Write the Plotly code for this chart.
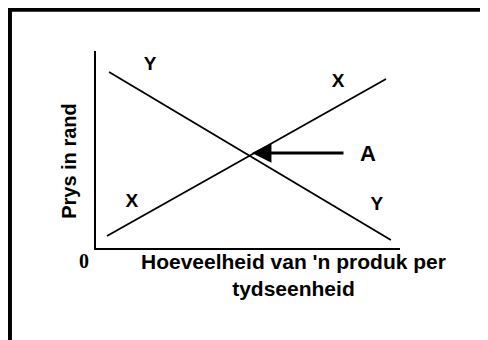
import plotly.graph_objects as go

# Vraag en aanbod skets (waardes op 'n 0-10 skaal afgelees)
supply_q = [0.36, 9.54]
supply_p = [0.61, 8.58]
demand_q = [0.43, 9.70]
demand_p = [8.93, 0.41]

label_text = ["Y", "X", "X", "Y"]
label_q = [1.78, 7.96, 1.18, 9.24]
label_p = [9.29, 8.43, 2.34, 2.18]

# punt A (ewewig) en stert van die pyl
point_a = [5.13, 4.82]
arrow_tail = [8.19, 4.82]

FONT = "Arial, Liberation Sans, sans-serif"

fig = go.Figure()
fig.add_trace(go.Scatter(x=supply_q, y=supply_p, mode="lines",
                         line=dict(color="black", width=1.8), hoverinfo="skip"))
fig.add_trace(go.Scatter(x=demand_q, y=demand_p, mode="lines",
                         line=dict(color="black", width=1.8), hoverinfo="skip"))
fig.add_trace(go.Scatter(x=label_q, y=label_p, mode="text", text=label_text,
                         textfont=dict(family=FONT, size=19, color="black", weight="bold"),
                         hoverinfo="skip"))

# pyl na punt A
fig.add_annotation(x=point_a[0], y=point_a[1], ax=arrow_tail[0], ay=arrow_tail[1],
                   xref="x", yref="y", axref="x", ayref="y", text="",
                   showarrow=True, arrowhead=2, arrowsize=1.3, arrowwidth=3,
                   arrowcolor="black", standoff=0)
fig.add_annotation(x=arrow_tail[0], y=arrow_tail[1], xref="x", yref="y",
                   text="A", showarrow=False, xanchor="left", xshift=13,
                   font=dict(family=FONT, size=22, color="black", weight="bold"))

# as titels
fig.add_annotation(x=0.651, y=0.0, xref="paper", yref="paper",
                   text="Hoeveelheid van 'n produk per<br>tydseenheid",
                   showarrow=False, xanchor="center", yanchor="top",
                   font=dict(family=FONT, size=21, color="black", weight="bold"))
fig.add_annotation(x=-0.089, y=0.442, xref="paper", yref="paper",
                   text="Prys in rand", textangle=-90, showarrow=False,
                   xanchor="center", yanchor="middle",
                   font=dict(family=FONT, size=20, color="black", weight="bold"))
fig.add_annotation(x=-0.016, y=0.0, xref="paper", yref="paper", text="0",
                   showarrow=False, xanchor="right", yanchor="top",
                   font=dict(family="Times New Roman, Liberation Serif, serif",
                             size=20, color="black", weight="bold"))

# dik raam bo en links
fig.add_shape(type="line", xref="paper", yref="paper", x0=-0.29, x1=1.4,
              y0=1.21, y1=1.21, line=dict(color="black", width=4))
fig.add_shape(type="line", xref="paper", yref="paper", x0=-0.283, x1=-0.283,
              y0=1.22, y1=-0.6, line=dict(color="black", width=4))

fig.update_xaxes(range=[0, 10], showline=True, linecolor="black", linewidth=2,
                 showgrid=False, zeroline=False, showticklabels=False, ticks="")
fig.update_yaxes(range=[0, 10], showline=True, linecolor="black", linewidth=2,
                 showgrid=False, zeroline=False, showticklabels=False, ticks="")
# die bladsy het 'n kantlyn van 8px, dus is alles 8px na links/bo geskuif
fig.update_layout(width=488, height=340, showlegend=False,
                  margin=dict(l=88, r=96, t=43, b=100),
                  plot_bgcolor="white", paper_bgcolor="white")

fig.write_html("out.html", config={"displayModeBar": False})
